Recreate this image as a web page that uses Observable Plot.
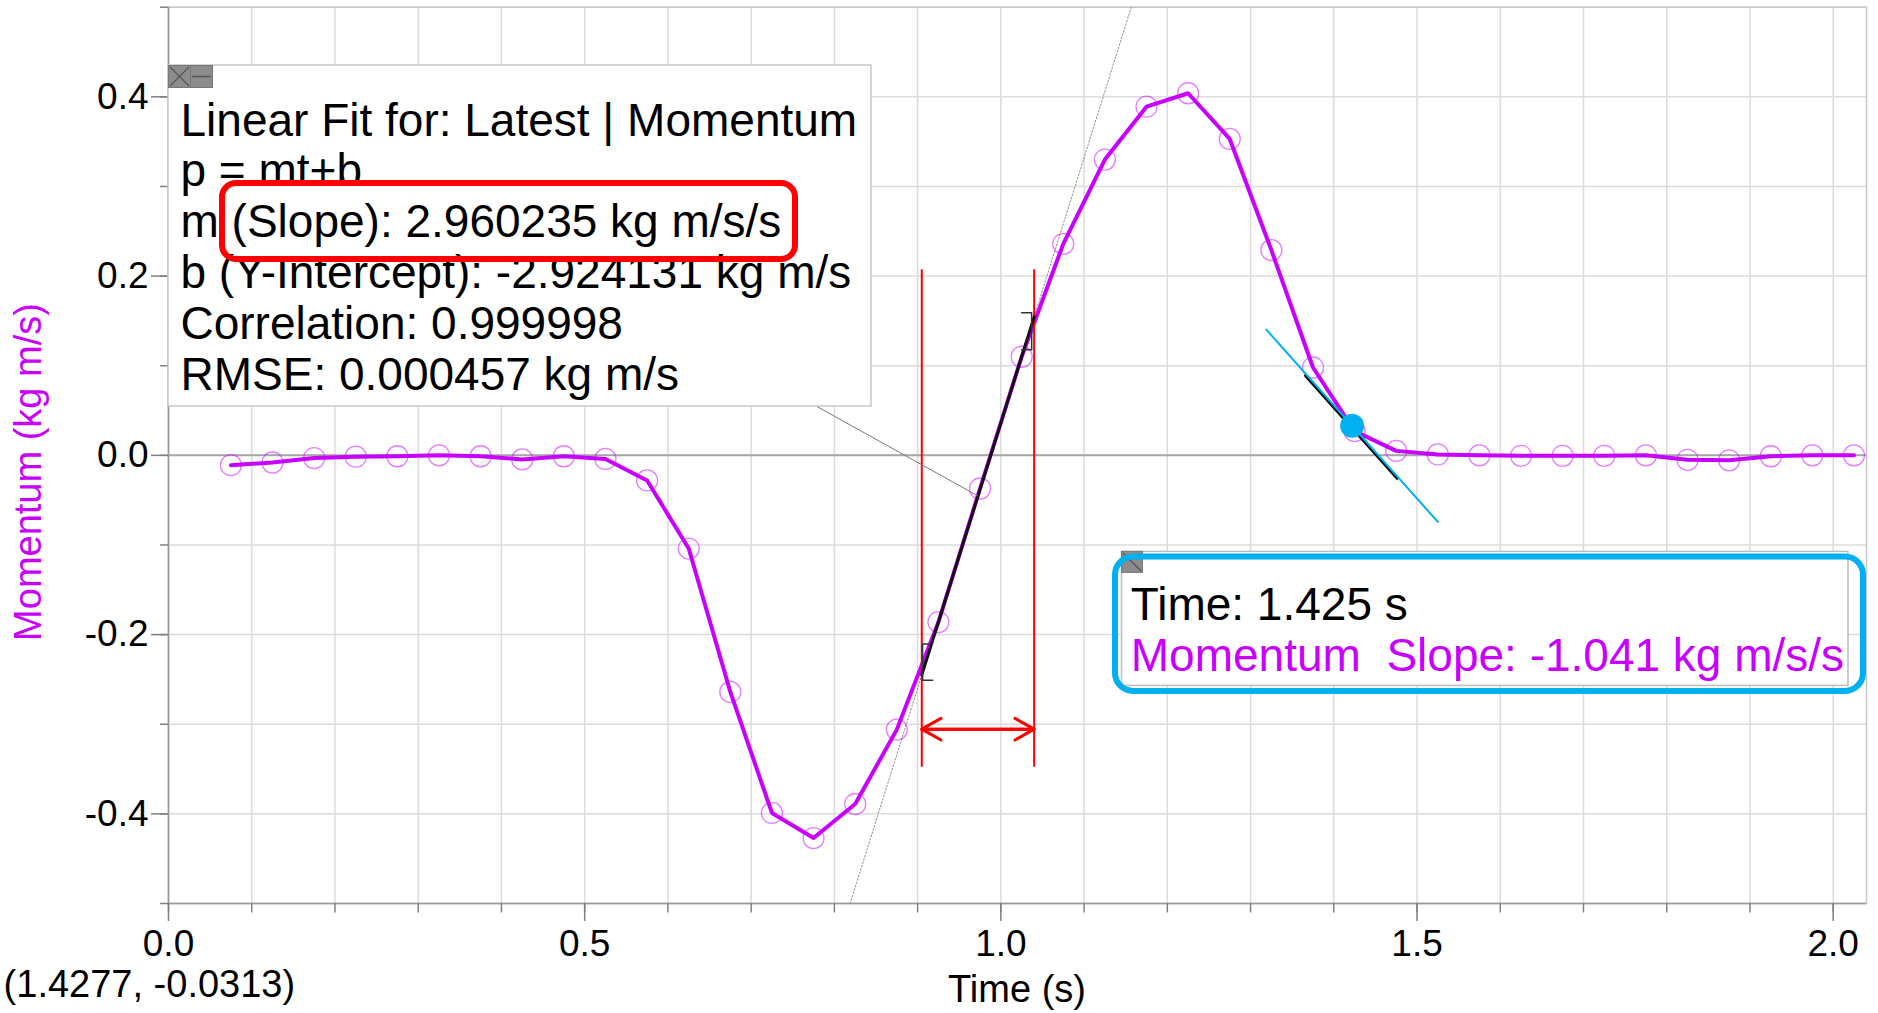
<!DOCTYPE html>
<html>
<head>
<meta charset="utf-8">
<script src="https://cdn.jsdelivr.net/npm/d3@7"></script>
<script src="https://cdn.jsdelivr.net/npm/@observablehq/plot@0.6"></script>
<style>
  html, body { margin: 0; padding: 0; background: #fff; }
  #chart { width: 1878px; height: 1013px; overflow: hidden; }
</style>
</head>
<body>
<div id="chart"></div>
<script>
// ---------- data ----------
const time = [0.075, 0.125, 0.175, 0.225, 0.275, 0.325, 0.375, 0.425, 0.475, 0.525,
              0.575, 0.625, 0.675, 0.725, 0.775, 0.825, 0.875, 0.925, 0.975, 1.025,
              1.075, 1.125, 1.175, 1.225, 1.275, 1.325, 1.375, 1.425, 1.475, 1.525,
              1.575, 1.625, 1.675, 1.725, 1.775, 1.825, 1.875, 1.925, 1.975, 2.025];
const momentum = [-0.011, -0.008, -0.003, -0.0015, -0.001, 0.000, -0.001, -0.0045, -0.001, -0.004,
                  -0.028, -0.104, -0.264, -0.399, -0.427, -0.389, -0.306, -0.186, -0.037, 0.110,
                  0.236, 0.330, 0.389, 0.404, 0.353, 0.229, 0.098, 0.027, 0.005, 0.001,
                  0.000, -0.0005, -0.0005, -0.0005, 0.000, -0.005, -0.0055, -0.001, 0.000, 0.000];

const xTicksMajor = [0, 0.5, 1.0, 1.5, 2.0];
const xTicksMinor = [0, 0.1, 0.2, 0.3, 0.4, 0.5, 0.6, 0.7, 0.8, 0.9, 1.0,
                     1.1, 1.2, 1.3, 1.4, 1.5, 1.6, 1.7, 1.8, 1.9, 2.0];
const yTicksMajor = [-0.4, -0.2, 0, 0.2, 0.4];
const yTicksMinor = [-0.5, -0.4, -0.3, -0.2, -0.1, 0, 0.1, 0.2, 0.3, 0.4, 0.5];

// linear fit over the selected region
const fitSlope = 2.960235;
const fitIntercept = -2.924131;
const selection = [0.905, 1.04];
const selectionSpan = [-0.348, 0.207];   // extent of the red selection lines (momentum)
const arrowLevel = -0.3055;              // momentum of the red double arrow
const brackets = [
  { id: "start", t: 0.906, lo: -0.251, hi: -0.2105, dir: 1 },
  { id: "end",   t: 1.037, lo: 0.1177, hi: 0.159,  dir: -1 }
];
const leaderStart = { t: 0.779, p: 0.0545 };  // corner of the fit box

// tangent readout
const tangentPoint = { t: 1.422, p: 0.033 };
const tangentSlope = -1.041;
const tangentHalfSpan = 0.103;
const tangentBlackHalfSpan = 0.055;

// texts
const fitLines = [
  "Linear Fit for: Latest | Momentum",
  "p = mt+b",
  "m (Slope): 2.960235 kg m/s/s",
  "b (Y-Intercept): -2.924131 kg m/s",
  "Correlation: 0.999998",
  "RMSE: 0.000457 kg m/s"
];
const readoutTime = "Time: 1.425 s";
const readoutSlope = "Momentum\u00a0\u00a0Slope: -1.041 kg m/s/s";
const cursorText = "(1.4277, -0.0313)";
const xLabel = "Time (s)";
const yLabel = "Momentum (kg m/s)";

// ---------- derived tables ----------
const MAGENTA = "#c800ff";
const BLUE = "#00b0f0";
const FONT = "'Liberation Sans', Arial, Helvetica, sans-serif";

const data = time.map((t, i) => ({ t, p: momentum[i] }));
const fitAt = t => fitSlope * t + fitIntercept;
const fitSeg = selection.map(t => ({ t, p: fitAt(t) }));
const fitExt = [-0.5, 0.5].map(p => ({ t: (p - fitIntercept) / fitSlope, p }));
const bracketPts = brackets.flatMap(b => [
  { id: b.id, t: b.t + b.dir * 0.012, p: b.hi },
  { id: b.id, t: b.t, p: b.hi },
  { id: b.id, t: b.t, p: b.lo },
  { id: b.id, t: b.t + b.dir * 0.012, p: b.lo }
]);
const selMid = (selection[0] + selection[1]) / 2;
const leader = [{ t1: leaderStart.t, p1: leaderStart.p, t2: selMid, p2: fitAt(selMid) }];
const tanSeg = h => [-h, h].map(d => ({ t: tangentPoint.t + d, p: tangentPoint.p + tangentSlope * d }));
const arrowsR = [
  { x1: selection[0], x2: selection[1], y: arrowLevel },
  { x1: selection[1], x2: selection[0], y: arrowLevel }
];

const plot = Plot.plot({
  width: 1878,
  height: 1013,
  marginLeft: 168,
  marginRight: 12,
  marginTop: 6.7,
  marginBottom: 110,
  x: { domain: [0, 2.04], label: null },
  y: { domain: [-0.5, 0.5], label: null },
  style: { fontFamily: FONT, fontSize: "37px", color: "#000", background: "#fff" },
  marks: [
    Plot.gridX(xTicksMinor, { stroke: "#dcdcdc", strokeOpacity: 1, strokeWidth: 1.5 }),
    Plot.gridY(yTicksMinor, { stroke: "#dcdcdc", strokeOpacity: 1, strokeWidth: 1.5 }),
    Plot.frame({ stroke: "#c8c8c8", strokeWidth: 1.5 }),
    Plot.ruleY([0], { stroke: "#a6a6a6", strokeWidth: 2 }),
    Plot.ruleX([0], { stroke: "#9a9a9a", strokeWidth: 1.5 }),
    Plot.ruleY([-0.5], { stroke: "#9a9a9a", strokeWidth: 1.5 }),
    Plot.axisX(xTicksMinor, { tickSize: 9.5, tickFormat: () => "", stroke: "#808080", strokeWidth: 1.5, label: null }),
    Plot.axisX(xTicksMajor, { tickSize: 18, tickPadding: 8, tickFormat: d => d.toFixed(1), stroke: "#808080", strokeWidth: 1.5, label: null }),
    Plot.axisY(yTicksMinor, { tickSize: 8, tickFormat: () => "", stroke: "#808080", strokeWidth: 1.5, label: null }),
    Plot.axisY(yTicksMajor, { tickSize: 17, tickPadding: 3, tickFormat: d => d.toFixed(1), stroke: "#808080", strokeWidth: 1.5, label: null }),

    // extended fit (thin dotted)
    Plot.line(fitExt, { x: "t", y: "p", stroke: "#8c8c8c", strokeWidth: 1, strokeDasharray: "1.5,2" }),
    // data
    Plot.dot(data, { x: "t", y: "p", r: 10.5, stroke: MAGENTA, strokeOpacity: 0.5, strokeWidth: 1.3, fill: "none" }),
    Plot.line(data, { x: "t", y: "p", stroke: MAGENTA, strokeWidth: 4 }),

    // selection markers
    Plot.ruleX(selection, { y1: selectionSpan[0], y2: selectionSpan[1], stroke: "#ff0000", strokeWidth: 2 }),
    Plot.arrow(arrowsR, { x1: "x1", x2: "x2", y1: "y", y2: "y", stroke: "#ff0000", strokeWidth: 3, headLength: 11, headAngle: 59 }),

    // fit line
    Plot.line(fitSeg, { x: "t", y: "p", stroke: "#111", strokeWidth: 3 }),
    Plot.line(bracketPts, { x: "t", y: "p", z: "id", stroke: "#333", strokeWidth: 1.5 }),
    Plot.link(leader, { x1: "t1", y1: "p1", x2: "t2", y2: "p2", stroke: "#777", strokeWidth: 1 }),

    // tangent
    Plot.line(tanSeg(tangentBlackHalfSpan), { x: "t", y: "p", stroke: "#111", strokeWidth: 3, dx: -0.8, dy: 1.2 }),
    Plot.line(tanSeg(tangentHalfSpan), { x: "t", y: "p", stroke: BLUE, strokeWidth: 2 }),
    Plot.dot([tangentPoint], { x: "t", y: "p", r: 12, fill: BLUE, stroke: "none" })
  ]
});

document.getElementById("chart").appendChild(plot);
const svg = d3.select(plot);

// ---------- fit box ----------
const fb = svg.append("g").attr("text-anchor", "start");
fb.append("rect").attr("x", 168).attr("y", 65).attr("width", 703).attr("height", 341)
  .attr("fill", "#fff").attr("stroke", "#c8c8c8").attr("stroke-width", 1.5);
// icons
[168.5, 190.5].forEach((x, i) => {
  fb.append("rect").attr("x", x).attr("y", 65.5).attr("width", 22).attr("height", 22)
    .attr("fill", "#8c8c8c").attr("stroke", "#777").attr("stroke-width", 1);
});
fb.append("path").attr("d", "M170,67L189,86M189,67L170,86").attr("stroke", "#555").attr("stroke-width", 1.2);
fb.append("path").attr("d", "M192,76.5L211,76.5").attr("stroke", "#555").attr("stroke-width", 1.5);
fitLines.forEach((s, i) => {
  fb.append("text").attr("x", 180.5).attr("y", 135.5 + i * 50.9)
    .attr("text-anchor", "start")
    .attr("font-family", FONT).attr("font-size", 46).attr("fill", "#000")
    .text(s);
});
fb.append("rect").attr("x", 222).attr("y", 183).attr("width", 573).attr("height", 76)
  .attr("rx", 14).attr("ry", 14).attr("fill", "none").attr("stroke", "#ff0000").attr("stroke-width", 6);

// ---------- readout box ----------
const rb = svg.append("g").attr("text-anchor", "start");
rb.append("rect").attr("x", 1121.5).attr("y", 551.4).attr("width", 726.5).attr("height", 134)
  .attr("fill", "#fff").attr("stroke", "#bdbdbd").attr("stroke-width", 1.5);
rb.append("rect").attr("x", 1121.5).attr("y", 551.4).attr("width", 21).attr("height", 21)
  .attr("fill", "#8c8c8c").attr("stroke", "#777").attr("stroke-width", 1);
rb.append("path").attr("d", "M1123,553L1141,571").attr("stroke", "#555").attr("stroke-width", 1.2);
rb.append("text").attr("x", 1130.8).attr("y", 620).attr("text-anchor", "start")
  .attr("font-family", FONT).attr("font-size", 46).attr("fill", "#000").text(readoutTime);
rb.append("text").attr("x", 1130.8).attr("y", 670.5).attr("text-anchor", "start")
  .attr("font-family", FONT).attr("font-size", 46).attr("fill", MAGENTA).text(readoutSlope);
rb.append("rect").attr("x", 1115).attr("y", 556.5).attr("width", 748).attr("height", 134.5)
  .attr("rx", 18).attr("ry", 18).attr("fill", "none").attr("stroke", BLUE).attr("stroke-width", 6);

// ---------- axis titles and cursor readout ----------
svg.append("text").attr("transform", "translate(41,472) rotate(-90)")
  .attr("text-anchor", "middle").attr("font-family", FONT).attr("font-size", 38)
  .attr("fill", MAGENTA).text(yLabel);
svg.append("text").attr("x", 1017).attr("y", 1002)
  .attr("text-anchor", "middle").attr("font-family", FONT).attr("font-size", 38)
  .attr("fill", "#000").text(xLabel);
svg.append("text").attr("x", 3.6).attr("y", 997).attr("text-anchor", "start")
  .attr("font-family", FONT).attr("font-size", 38).attr("fill", "#000").text(cursorText);
</script>
</body>
</html>
